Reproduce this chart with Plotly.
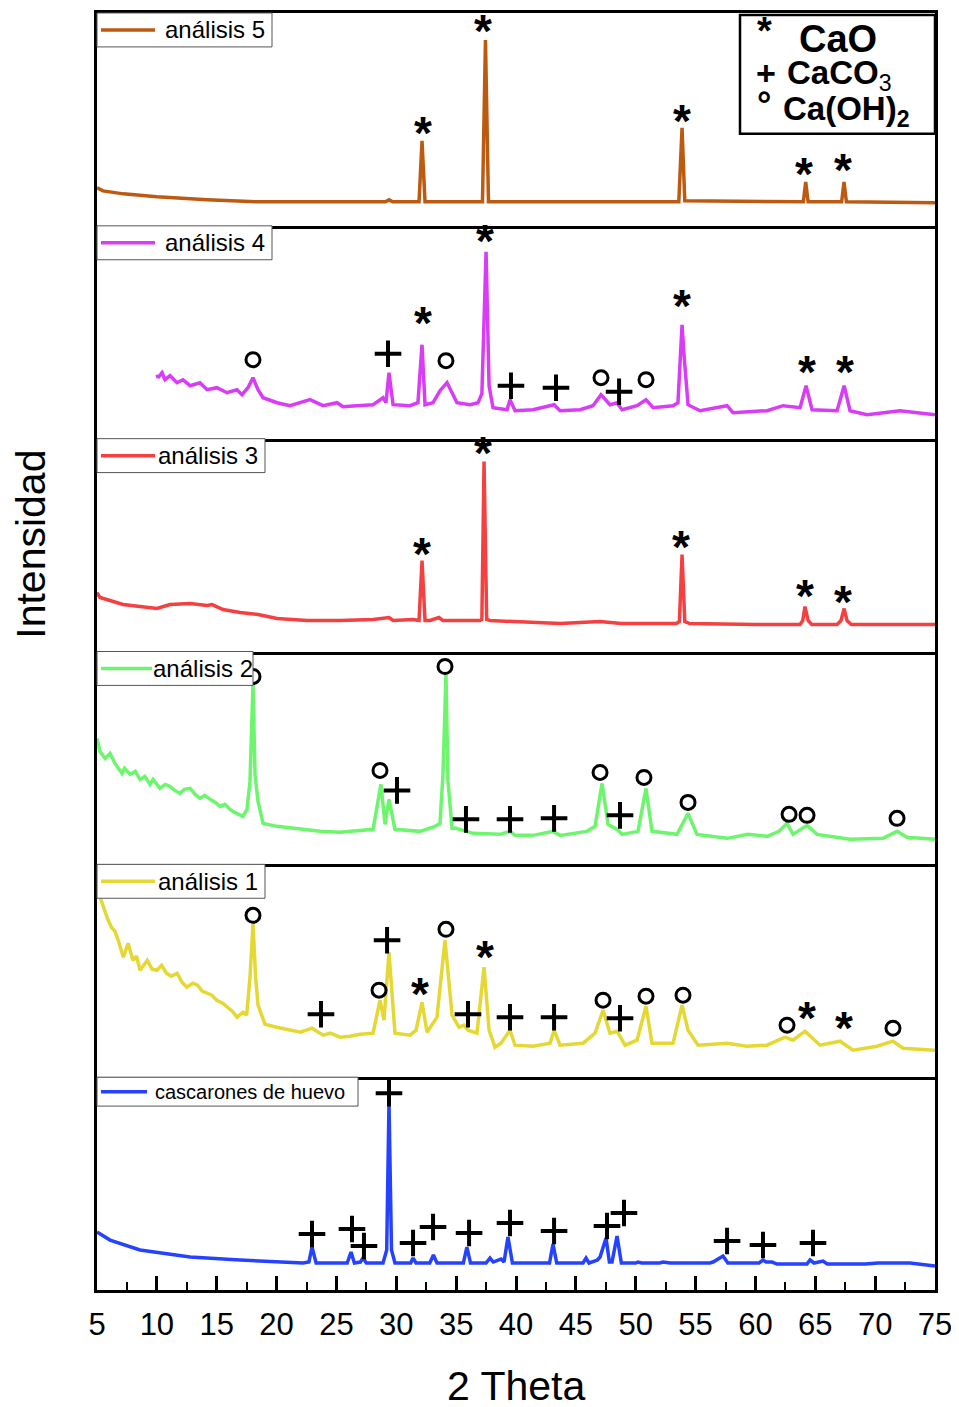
import plotly.graph_objects as go
from plotly.subplots import make_subplots

# ---------------- data (2 Theta in degrees, intensity in arbitrary units) ----------------
names = ["análisis 5", "análisis 4", "análisis 3", "análisis 2", "análisis 1", "cascarones de huevo"]
colors = ["#BD5A12", "#D83CF6", "#F44040", "#6DF56D", "#E5D835", "#2442FF"]

a5_x = [5.0, 5.5, 7.2, 10.0, 14.2, 18.4, 22.0, 26.0, 29.1, 29.4, 29.7, 31.9, 32.15, 32.4, 37.2, 37.45, 37.7,
        45.0, 53.6, 53.87, 54.1, 64.0, 64.2, 64.4, 67.2, 67.4, 67.6, 75.0]
a5_y = [38, 35, 32, 29, 26, 24, 24, 24, 24, 26, 24, 24, 85, 24, 24, 186, 24,
        24, 24, 98, 25, 24, 44, 24, 24, 44, 24, 23]

a4_x = [10.01, 10.10, 10.43, 10.68, 11.10, 11.68, 12.18, 12.77, 13.60, 14.19, 15.02, 15.86, 16.69, 17.11, 17.61,
        18.03, 18.45, 18.87, 20.04, 21.12, 22.79, 23.88, 25.05, 25.55, 26.72, 28.06, 28.89, 29.14, 29.39, 29.73,
        31.15, 31.81, 32.15, 32.40, 33.07, 33.65, 34.24, 34.66, 35.07, 36.16, 36.83, 37.15, 37.50, 37.75, 38.08,
        39.25, 39.50, 39.92, 41.42, 43.18, 43.68, 45.35, 46.43, 47.10, 47.85, 48.44, 48.86, 50.11, 50.86, 51.45,
        53.12, 53.53, 53.87, 54.04, 54.37, 55.37, 57.63, 58.13, 60.97, 62.31, 63.73, 64.23, 64.73, 66.82, 67.41,
        67.90, 69.32, 72.08, 75.00]
a4_y = [64, 61, 66, 59, 63, 56, 59, 53, 56, 49, 51, 46, 49, 44, 51,
        61, 49, 41, 36, 33, 39, 33, 36, 32, 33, 34, 41, 36, 66, 34,
        33, 36, 94, 34, 36, 48, 56, 46, 36, 34, 36, 45, 187, 53, 31,
        29, 39, 28, 29, 34, 28, 29, 33, 44, 34, 36, 29, 33, 39, 31,
        33, 36, 114, 83, 34, 28, 33, 26, 28, 33, 31, 53, 29, 28, 53,
        28, 24, 28, 24]

a3_x = [5.00, 5.25, 6.09, 7.17, 8.59, 10.01, 11.10, 12.77, 14.19, 14.61, 15.53, 16.95, 18.45, 20.04, 22.54, 25.30,
        28.06, 29.39, 29.73, 31.40, 31.90, 32.15, 32.40, 32.82, 33.57, 33.90, 36.99, 37.15, 37.33, 37.55, 37.83,
        41.17, 43.7, 47.0, 48.8, 50.5, 53.4, 53.65, 53.87, 54.1, 54.5, 60.0, 63.73, 63.95, 64.14, 64.40, 64.7,
        66.82, 67.15, 67.41, 67.65, 68.0, 75.0]
a3_y = [59, 54, 51, 47, 45, 43, 47, 48, 46, 47, 42, 39, 37, 33, 31, 31,
        32, 34, 31, 32, 31, 91, 31, 31, 34, 31, 31, 32, 190, 32, 31,
        29, 28, 30, 28, 28, 28, 30, 97, 30, 28, 27, 27, 31, 45, 31, 27,
        27, 31, 43, 31, 27, 27]

a2_x = [5.00, 5.25, 5.67, 6.09, 6.50, 7.09, 7.30, 7.76, 8.20, 8.59, 9.00, 9.43, 9.68, 10.26, 10.70, 11.10,
        11.50, 11.93, 12.30, 12.77, 13.20, 13.60, 14.00, 14.44, 14.90, 15.27, 15.70, 16.11, 16.50, 16.95, 17.20,
        17.53, 17.78, 18.03, 18.20, 18.45, 18.87, 20.04, 21.96, 23.63, 25.30, 26.55, 28.06, 28.47, 28.72, 29.06,
        29.39, 29.89, 31.98, 33.24, 33.65, 33.90, 34.15, 34.32, 34.66, 34.99, 36.41, 38.67, 39.50, 39.92, 41.42,
        43.09, 43.68, 45.93, 46.60, 47.19, 47.69, 48.44, 48.86, 50.19, 50.86, 51.36, 53.45, 54.37, 55.12, 57.63,
        59.38, 60.97, 61.97, 62.64, 63.14, 64.31, 65.15, 67.90, 70.66, 71.83, 72.66, 75.00]
a2_y = [126, 113, 106, 111, 101, 91, 96, 90, 93, 85, 88, 80, 85, 76, 80, 78,
        74, 71, 75, 76, 70, 66, 69, 65, 62, 58, 60, 55, 52, 50, 48,
        55, 83, 180, 90, 63, 41, 38, 35, 33, 32, 33, 35, 63, 80, 40,
        65, 35, 33, 38, 41, 90, 190, 83, 36, 36, 31, 30, 33, 29, 29,
        33, 29, 33, 38, 81, 40, 35, 30, 33, 76, 33, 30, 51, 30, 26,
        30, 28, 33, 41, 30, 39, 30, 25, 26, 33, 27, 25]

a1_x = [5.00, 5.30, 5.60, 5.90, 6.20, 6.50, 6.80, 7.20, 7.60, 8.00, 8.30, 8.60, 9.20, 9.60, 10.00, 10.40,
        10.80, 11.20, 11.70, 12.10, 12.50, 13.00, 13.40, 13.80, 14.20, 14.60, 15.00, 15.50, 15.90, 16.30, 16.70,
        17.20, 17.50, 17.78, 18.03, 18.25, 18.45, 19.03, 20.00, 21.12, 22.00, 22.96, 23.88, 24.50, 25.30, 26.13,
        27.00, 28.06, 28.64, 28.97, 29.39, 29.89, 31.15, 31.65, 32.15, 32.57, 33.40, 34.07, 34.66, 35.24, 35.66,
        35.99, 36.74, 37.33, 37.75, 38.25, 38.75, 39.50, 39.92, 41.42, 42.84, 43.18, 43.68, 45.60, 46.60, 47.27,
        47.85, 48.44, 49.11, 50.11, 50.86, 51.36, 53.12, 53.87, 54.37, 55.21, 57.63, 59.30, 60.97, 62.47, 63.14,
        64.14, 65.40, 67.07, 68.15, 70.16, 71.49, 72.33, 75.00]
a1_y = [189, 178, 168, 158, 150, 146, 136, 120, 134, 117, 121, 107, 117, 108, 107, 112,
        104, 101, 104, 95, 90, 94, 92, 86, 84, 82, 77, 74, 70, 66, 60,
        65, 62, 100, 154, 100, 72, 53, 50, 47, 45, 49, 42, 44, 40, 41,
        43, 44, 77, 57, 125, 44, 42, 47, 75, 45, 60, 137, 62, 50, 52,
        47, 44, 110, 47, 30, 34, 47, 32, 31, 34, 47, 32, 34, 44, 67,
        44, 46, 32, 37, 71, 34, 34, 72, 47, 32, 34, 31, 32, 40, 37,
        46, 32, 36, 27, 31, 36, 29, 27]

c_x = [5.00, 6.09, 8.59, 12.77, 16.95, 22.2, 22.7, 22.96, 23.3, 25.9, 26.22, 26.5, 27.0, 27.22, 27.5, 28.89,
       29.2, 29.39, 29.6, 29.89, 31.2, 31.4, 31.65, 32.8, 33.1, 33.4, 35.6, 35.9, 36.2, 37.5, 37.83, 38.1, 38.75,
       39.0, 39.33, 39.7, 42.8, 43.09, 43.4, 45.6, 45.85, 46.1, 46.8, 47.02, 47.52, 47.8, 48.02, 48.44, 48.8,
       50.0, 50.19, 50.5, 52.0, 52.28, 52.87, 56.2, 56.46, 57.29, 57.7, 60.3, 60.63, 60.9, 61.39, 61.8, 64.3,
       64.56, 64.9, 65.65, 66.0, 69.16, 70.24, 72.91, 75.00]
c_y = [58, 50, 40, 33, 30, 27, 28, 43, 27, 27, 38, 27, 28, 32, 27, 27,
       40, 187, 40, 27, 27, 32, 27, 27, 35, 27, 27, 43, 27, 27, 32, 28, 31,
       28, 53, 27, 27, 46, 27, 27, 32, 27, 30, 33, 52, 28, 28, 54, 27,
       27, 28, 27, 27, 28, 27, 27, 28, 34, 27, 27, 30, 28, 28, 26, 26,
       30, 27, 29, 26, 26, 27, 27, 24]

# phase labels: (2 theta, height, phase)  * = CaO, + = CaCO3, o = Ca(OH)2
a5_marks = [(32.23, 95, "*"), (37.25, 197, "*"), (53.87, 107, "*"), (64.06, 54, "*"), (67.32, 58, "*")]
a4_marks = [(18.03, 79, "o"), (29.31, 85, "+"), (32.23, 118, "*"), (34.15, 78, "o"), (37.41, 200, "*"),
            (39.58, 53, "+"), (43.34, 51, "+"), (47.10, 61, "o"), (48.61, 47, "+"), (50.86, 59, "o"),
            (53.87, 135, "*"), (64.31, 69, "*"), (67.49, 69, "*")]
a3_marks = [(32.15, 100, "*"), (37.25, 201, "*"), (53.79, 107, "*"), (64.14, 58, "*"), (67.32, 52, "*")]
a2_marks = [(18.03, 188, "o"), (28.64, 94, "o"), (30.06, 74, "+"), (34.07, 198, "o"), (35.82, 45, "+"),
            (39.50, 45, "+"), (43.18, 46, "+"), (47.02, 92, "o"), (48.69, 49, "+"), (50.69, 87, "o"),
            (54.37, 62, "o"), (62.81, 50, "o"), (64.31, 49, "o"), (71.83, 46, "o")]
a1_marks = [(18.03, 162, "o"), (23.71, 63, "+"), (28.56, 87, "o"), (29.23, 137, "+"), (31.98, 85, "*"),
            (34.15, 148, "o"), (35.99, 63, "+"), (37.41, 122, "*"), (39.50, 60, "+"), (43.18, 60, "+"),
            (47.27, 77, "o"), (48.69, 59, "+"), (50.86, 81, "o"), (53.95, 82, "o"), (62.64, 52, "o"),
            (64.31, 61, "*"), (67.40, 51, "*"), (71.49, 49, "o")]
c_marks = [(22.96, 56, "+"), (26.30, 61, "+"), (27.30, 44, "+"), (29.39, 197, "+"), (31.40, 47, "+"),
           (33.07, 63, "+"), (36.08, 57, "+"), (39.50, 67, "+"), (43.18, 59, "+"), (47.60, 64, "+"),
           (49.02, 77, "+"), (57.63, 49, "+"), (60.63, 45, "+"), (64.81, 47, "+")]

x_ticks = [5, 10, 15, 20, 25, 30, 35, 40, 45, 50, 55, 60, 65, 70, 75]

series_x = [a5_x, a4_x, a3_x, a2_x, a1_x, c_x]
series_y = [a5_y, a4_y, a3_y, a2_y, a1_y, c_y]
series_marks = [a5_marks, a4_marks, a3_marks, a2_marks, a1_marks, c_marks]

# ---------------- layout helpers (page pixel -> paper) ----------------
FONT = "Liberation Sans, Arial, Helvetica, sans-serif"
N = 6
PL, PR, PT, PB = 97, 935, 10, 1290      # plot area in page pixels


def px(p):
    return (p - PL) / (PR - PL)


def py(p):
    return (PB - p) / (PB - PT)


# legend boxes: (box right, box height, line end, text start, font size)
legend_style = [(272, 34, 155, 163, 24), (272, 34, 155, 163, 24), (265, 34, 155, 156, 24),
                (253, 34, 152, 151, 24), (265, 34, 155, 156, 24), (358, 29, 147, 153, 20)]

fig = make_subplots(rows=N, cols=1, shared_xaxes=True, vertical_spacing=0)

annotations = []
shapes = []
panel_h = (PB - PT) / N
for i in range(N):
    r = i + 1
    fig.add_trace(go.Scatter(x=series_x[i], y=series_y[i], mode="lines", name=names[i], showlegend=False,
                             line=dict(color=colors[i], width=3.5)), row=r, col=1)
    marks = series_marks[i]
    cx = [m[0] for m in marks if m[2] == "+"]
    cy = [m[1] for m in marks if m[2] == "+"]
    if cx:
        fig.add_trace(go.Scatter(x=cx, y=cy, mode="markers", showlegend=False, hoverinfo="skip",
                                 marker=dict(symbol="cross-thin", size=19,
                                             line=dict(color="black", width=4))), row=r, col=1)
    ox = [m[0] for m in marks if m[2] == "o"]
    oy = [m[1] for m in marks if m[2] == "o"]
    if ox:
        fig.add_trace(go.Scatter(x=ox, y=oy, mode="markers", showlegend=False, hoverinfo="skip",
                                 marker=dict(symbol="circle-open", size=14, color="black",
                                             line=dict(color="black", width=3))), row=r, col=1)
    xref = "x" if r == 1 else f"x{r}"
    yref = "y" if r == 1 else f"y{r}"
    for (mx, my, k) in marks:
        if k == "*":
            annotations.append(dict(x=mx, y=my, xref=xref, yref=yref, text="<b>*</b>", showarrow=False,
                                    xanchor="center", yanchor="middle",
                                    font=dict(family=FONT, size=46, color="black"), yshift=-2))

    # legend box for this panel
    bx1, bh, lend, tx, fs = legend_style[i]
    top = PT + i * panel_h
    shapes.append(dict(type="rect", xref="paper", yref="paper", x0=px(PL), x1=px(bx1),
                       y0=py(top + bh), y1=py(top), line=dict(color="#555", width=1),
                       fillcolor="white", layer="above"))
    shapes.append(dict(type="line", xref="paper", yref="paper", x0=px(PL + 4), x1=px(lend),
                       y0=py(top + bh / 2), y1=py(top + bh / 2),
                       line=dict(color=colors[i], width=3.5), layer="above"))
    annotations.append(dict(x=px(tx), y=py(top + bh / 2), xref="paper", yref="paper", text=names[i],
                            showarrow=False, xanchor="left", yanchor="middle",
                            font=dict(family=FONT, size=fs, color="black")))

for r in range(1, N + 1):
    fig.update_xaxes(range=[5, 75], showline=True, mirror=(r == 1), linecolor="black", linewidth=3,
                     showgrid=False, zeroline=False, row=r, col=1)
    fig.update_yaxes(range=[0, 213], showline=True, mirror=True, linecolor="black", linewidth=3,
                     showgrid=False, zeroline=False, showticklabels=False, ticks="", row=r, col=1)
    if r < N:
        fig.update_xaxes(ticks="", showticklabels=False, row=r, col=1)

fig.update_xaxes(ticks="inside", ticklen=14, tickwidth=2.5, tickcolor="black",
                 tickvals=x_ticks, ticktext=[str(v) for v in x_ticks], showticklabels=True,
                 tickfont=dict(family=FONT, size=31, color="black"), ticklabelstandoff=5,
                 minor=dict(ticks="inside", ticklen=8, tickwidth=2, tickcolor="black", dtick=2.5, tick0=5),
                 row=N, col=1)

# phase key box
key_font = lambda s: dict(family=FONT, size=s, color="black")
annotations += [
    dict(x=px(764), y=py(28), text="<b>*</b>", font=key_font(38), xanchor="center", yanchor="middle"),
    dict(x=px(838), y=py(36), text="<b>CaO</b>", font=key_font(38), xanchor="center", yanchor="middle"),
    dict(x=px(766), y=py(70), text="<b>+</b>", font=key_font(34), xanchor="center", yanchor="middle"),
    dict(x=px(785), y=py(72), text="<b>CaCO</b><sub>3</sub>", font=key_font(33), xanchor="left",
         yanchor="middle"),
    dict(x=px(764), y=py(102), text="<b>°</b>", font=key_font(36), xanchor="center", yanchor="middle"),
    dict(x=px(781), y=py(108), text="<b>Ca(OH)</b><sub><b>2</b></sub>", font=key_font(33), xanchor="left",
         yanchor="middle"),
    dict(x=px(31), y=py(543), text="Intensidad", textangle=-90, font=key_font(41), xanchor="center",
         yanchor="middle"),
    dict(x=px(516), y=py(1386), text="2 Theta", font=key_font(41), xanchor="center", yanchor="middle"),
]
for a in annotations[-8:]:
    a.update(xref="paper", yref="paper", showarrow=False)

shapes.append(dict(type="rect", xref="paper", yref="paper", x0=px(740), x1=px(PR), y0=py(131), y1=py(12),
                   line=dict(color="black", width=2.5), fillcolor="rgba(0,0,0,0)", layer="above"))

# the page body adds an 8px margin: compensate so the plot area lands on the target pixels
OFF = 8
fig.update_layout(width=959 - OFF, height=1407 - OFF,
                  margin=dict(l=PL - OFF, r=959 - PR, t=PT - OFF, b=1407 - PB),
                  plot_bgcolor="white", paper_bgcolor="white", annotations=annotations, shapes=shapes,
                  font=dict(family=FONT, color="black"), showlegend=False)

fig.write_html("out.html")
